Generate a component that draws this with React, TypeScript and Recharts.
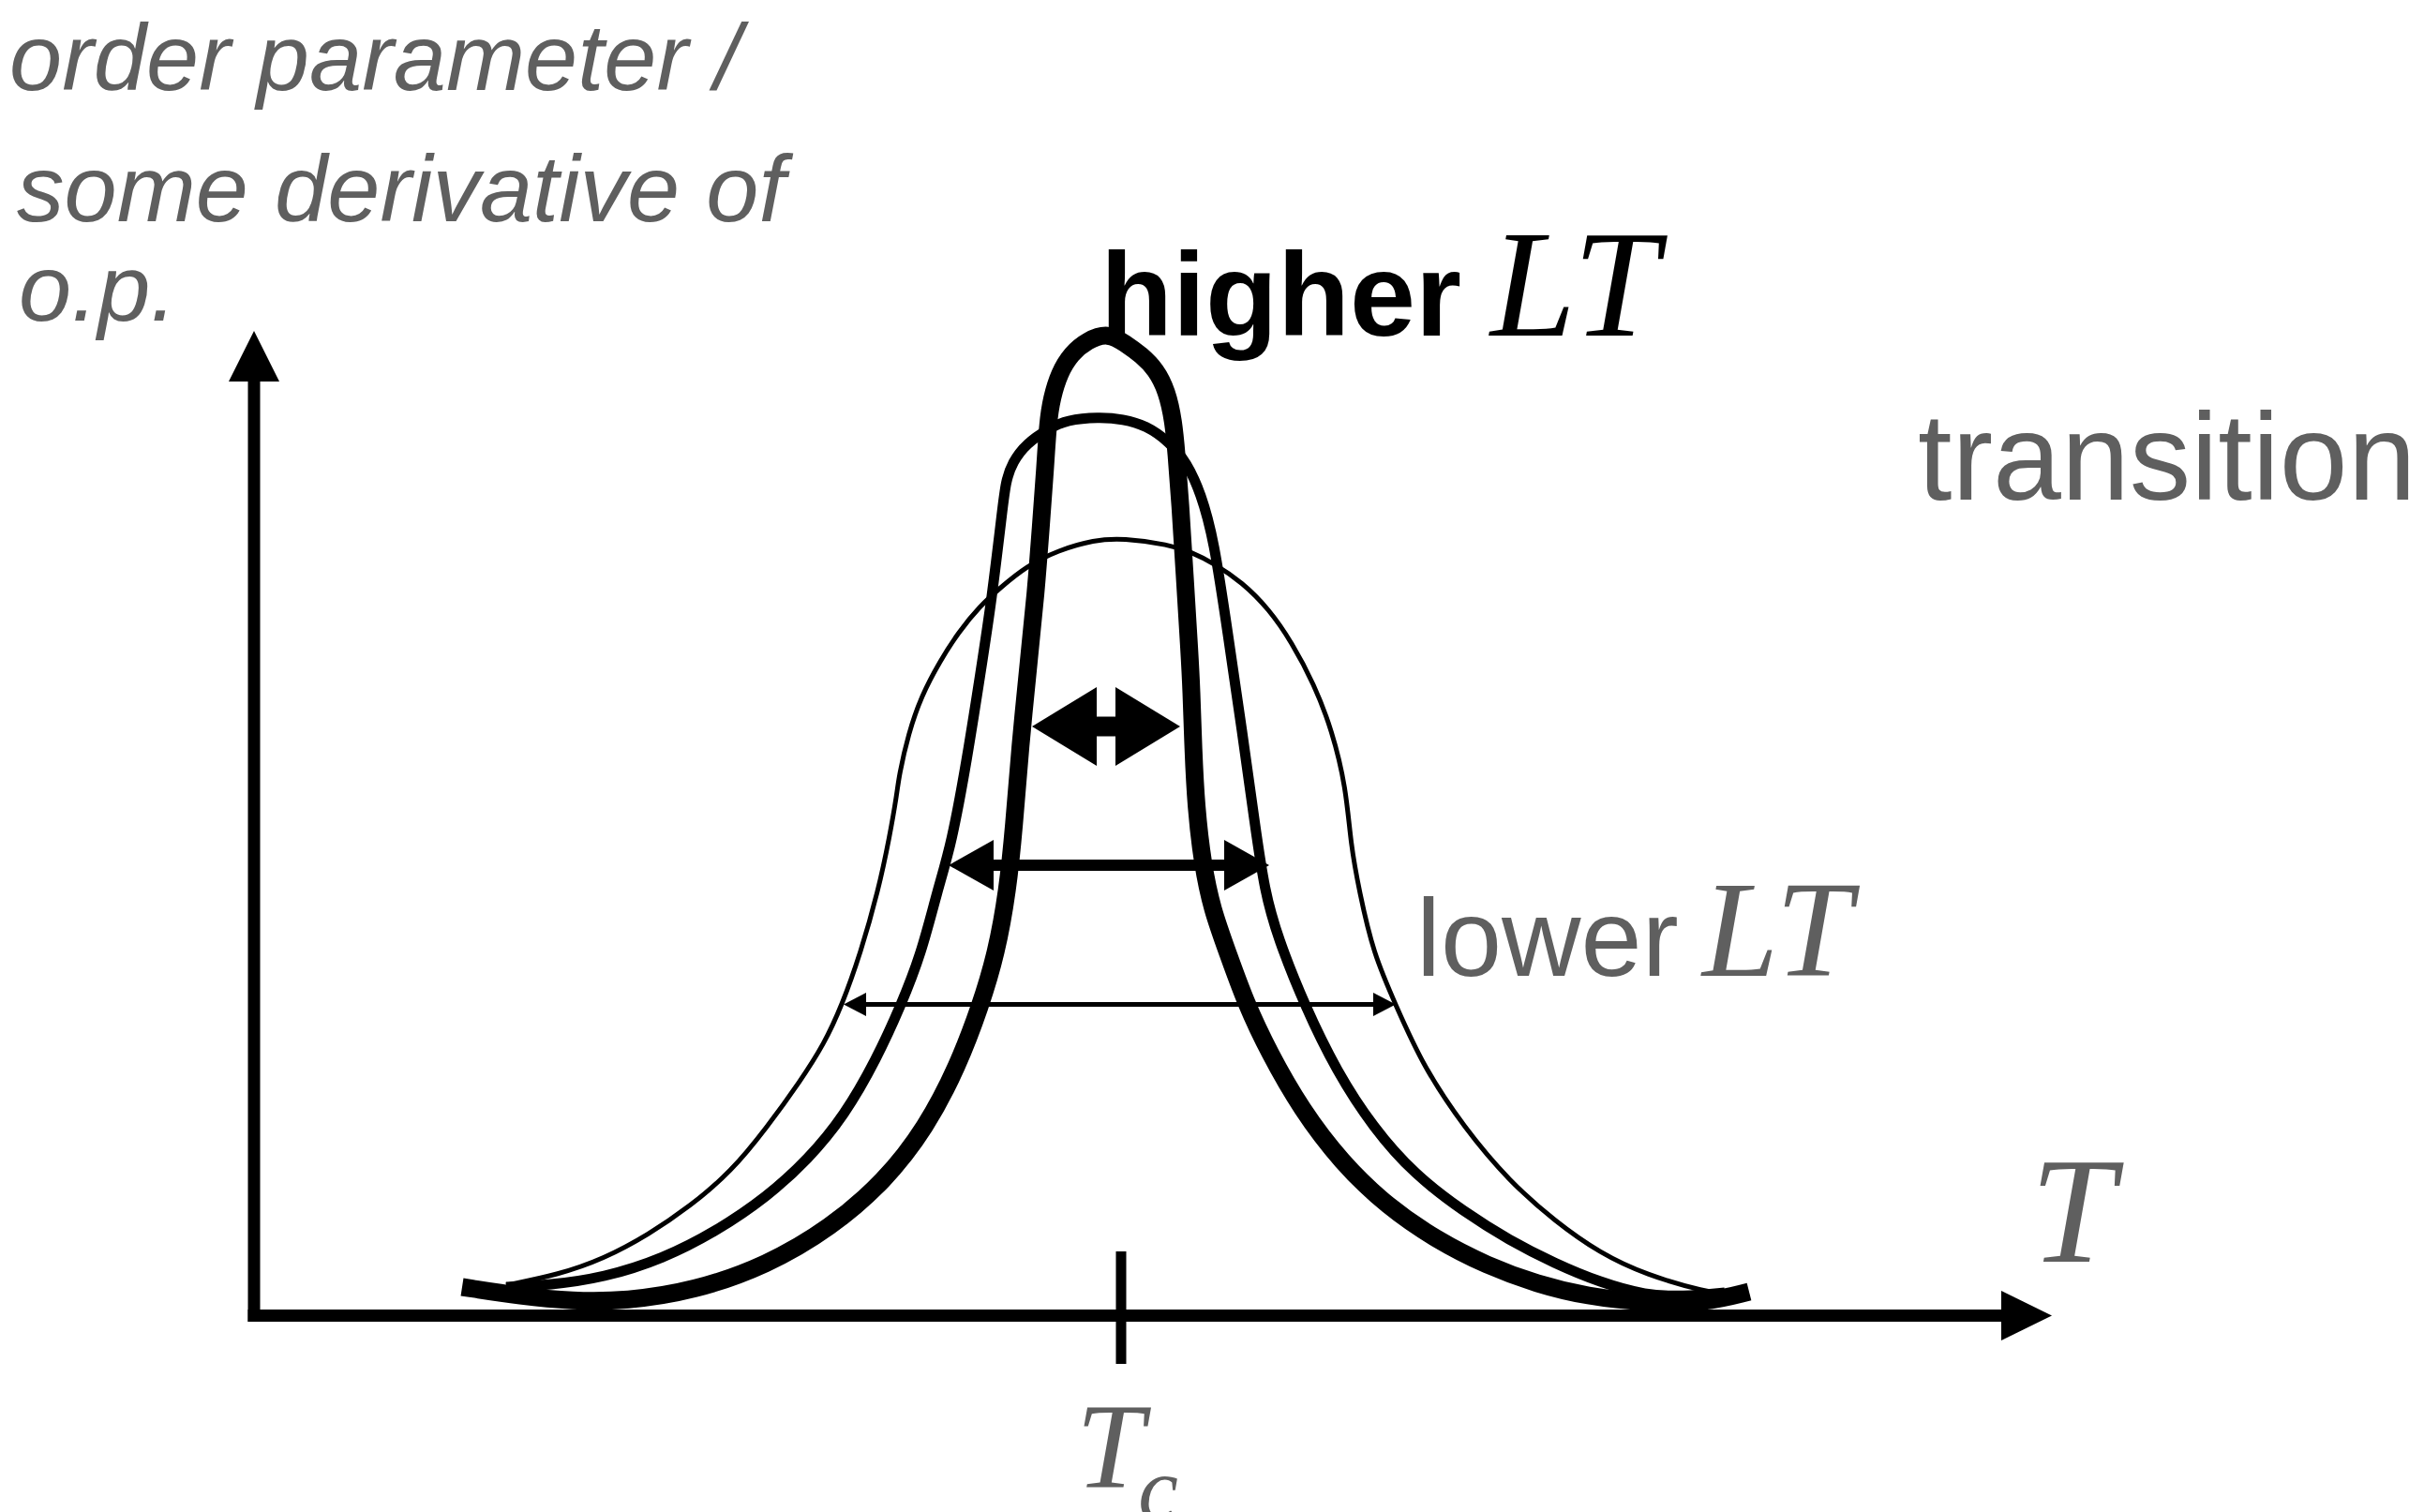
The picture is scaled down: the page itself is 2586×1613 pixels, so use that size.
import React from 'react';
import { LineChart, Line, XAxis, YAxis, ReferenceLine, ReferenceDot } from 'recharts';

const thinCurve = [
  { x: -65.6, y: 3.25 }, { x: -60.1, y: 4.35 }, { x: -55.2, y: 6.05 }, { x: -50.4, y: 8.65 },
  { x: -46.0, y: 11.65 }, { x: -41.6, y: 15.35 }, { x: -37.8, y: 20.05 }, { x: -34.2, y: 25.05 },
  { x: -31.7, y: 28.95 }, { x: -29.8, y: 33.05 }, { x: -27.8, y: 38.65 }, { x: -25.9, y: 45.35 },
  { x: -24.7, y: 51.05 }, { x: -23.9, y: 55.75 }, { x: -23.7, y: 57.55 }, { x: -22.7, y: 62.05 },
  { x: -21.3, y: 66.15 }, { x: -19.3, y: 69.85 }, { x: -17.4, y: 72.85 }, { x: -15.0, y: 75.75 },
  { x: -13.0, y: 77.55 }, { x: -10.1, y: 79.95 }, { x: -6.7, y: 81.65 }, { x: -2.9, y: 82.75 },
  { x: 0.2, y: 82.95 }, { x: 5.1, y: 82.25 }, { x: 7.5, y: 81.45 }, { x: 9.9, y: 80.25 },
  { x: 12.9, y: 78.25 }, { x: 15.8, y: 75.35 }, { x: 18.2, y: 71.85 }, { x: 20.6, y: 67.35 },
  { x: 22.5, y: 62.45 }, { x: 24.0, y: 56.35 }, { x: 24.5, y: 50.25 }, { x: 25.4, y: 45.35 },
  { x: 26.9, y: 38.65 }, { x: 29.3, y: 33.15 }, { x: 32.2, y: 26.65 }, { x: 36.6, y: 20.05 },
  { x: 41.4, y: 14.35 }, { x: 46.3, y: 10.05 }, { x: 51.1, y: 6.65 }, { x: 56.0, y: 4.35 },
  { x: 62.3, y: 2.55 }, { x: 65.4, y: 2.15 },
];

const mediumCurve = [
  { x: -65.6, y: 3.05 }, { x: -61.0, y: 3.25 }, { x: -55.2, y: 4.05 }, { x: -48.9, y: 6.05 },
  { x: -43.1, y: 9.05 }, { x: -37.8, y: 12.65 }, { x: -33.4, y: 16.65 }, { x: -29.5, y: 21.35 },
  { x: -26.1, y: 27.35 }, { x: -23.5, y: 33.05 }, { x: -21.3, y: 38.65 }, { x: -19.6, y: 45.35 },
  { x: -18.1, y: 50.25 }, { x: -16.4, y: 59.55 }, { x: -15.0, y: 68.55 }, { x: -13.8, y: 76.35 },
  { x: -12.6, y: 86.55 }, { x: -12.3, y: 88.95 }, { x: -11.6, y: 91.05 }, { x: -10.1, y: 93.05 },
  { x: -7.7, y: 94.65 }, { x: -5.8, y: 95.55 }, { x: -2.4, y: 95.85 }, { x: 0.2, y: 95.65 },
  { x: 2.7, y: 94.95 }, { x: 5.1, y: 93.25 }, { x: 7.0, y: 91.05 }, { x: 8.5, y: 87.75 },
  { x: 9.9, y: 82.85 }, { x: 11.4, y: 72.65 }, { x: 12.9, y: 62.45 }, { x: 14.3, y: 52.25 },
  { x: 15.3, y: 45.35 }, { x: 16.7, y: 40.35 }, { x: 19.6, y: 33.05 }, { x: 23.0, y: 26.05 },
  { x: 26.9, y: 20.05 }, { x: 31.3, y: 15.05 }, { x: 36.6, y: 11.05 }, { x: 41.4, y: 8.05 },
  { x: 46.3, y: 5.55 }, { x: 51.1, y: 3.55 }, { x: 56.0, y: 2.15 }, { x: 59.9, y: 2.05 },
  { x: 64.4, y: 2.45 },
];

const thickCurve = [
  { x: -70.3, y: 3.05 }, { x: -63.9, y: 2.05 }, { x: -58.6, y: 1.55 }, { x: -52.8, y: 1.55 },
  { x: -45.5, y: 2.65 }, { x: -37.8, y: 5.35 }, { x: -31.0, y: 9.35 }, { x: -25.2, y: 14.35 },
  { x: -20.8, y: 20.05 }, { x: -17.4, y: 26.65 }, { x: -15.0, y: 33.05 }, { x: -13.3, y: 38.65 },
  { x: -12.1, y: 45.35 }, { x: -11.4, y: 52.35 }, { x: -10.8, y: 60.35 }, { x: -9.8, y: 70.35 },
  { x: -9.1, y: 77.05 }, { x: -8.6, y: 83.65 }, { x: -8.1, y: 90.35 }, { x: -7.8, y: 95.35 },
  { x: -7.4, y: 97.85 }, { x: -6.6, y: 100.55 }, { x: -5.3, y: 102.65 }, { x: -3.6, y: 104.05 },
  { x: -1.4, y: 104.85 }, { x: 0.4, y: 103.75 }, { x: 2.2, y: 102.45 }, { x: 3.7, y: 100.95 },
  { x: 4.9, y: 98.65 }, { x: 5.6, y: 95.35 }, { x: 5.9, y: 92.05 }, { x: 6.3, y: 86.95 },
  { x: 6.8, y: 78.75 }, { x: 7.3, y: 70.65 }, { x: 7.5, y: 66.95 }, { x: 7.7, y: 60.45 },
  { x: 8.0, y: 54.25 }, { x: 8.7, y: 48.15 }, { x: 9.7, y: 43.35 }, { x: 11.4, y: 38.65 },
  { x: 13.3, y: 33.35 }, { x: 15.8, y: 28.05 }, { x: 19.2, y: 22.05 }, { x: 23.5, y: 16.35 },
  { x: 28.4, y: 11.65 }, { x: 33.7, y: 8.05 }, { x: 39.0, y: 5.35 }, { x: 44.4, y: 3.35 },
  { x: 49.7, y: 2.05 }, { x: 56.0, y: 1.35 }, { x: 62.3, y: 1.35 }, { x: 67.0, y: 2.55 },
];

// full width markers: y level, left end, right end
const widthArrows = [
  { key: 'high', y: 62.85, from: -9.5, to: 6.3 },
  { key: 'mid', y: 48.05, from: -18.4, to: 15.8 },
  { key: 'low', y: 33.2, from: -29.6, to: 29.3 },
];

const signalAxis = { x: -92.5, from: -0.65, to: 105.05 };
const tAxis = { y: 0, from: -93.15, to: 99.3 };
const tcTick = { x: 0, from: -5.15, to: 6.85 };

const SANS = "'Liberation Sans', Arial, Helvetica, sans-serif";
const SERIF = "'Liberation Serif', 'Times New Roman', serif";
const GREY = '#5f5f5f';

const arrowLook: Record<string, { head: number; half: number; w: number }> = {
  high: { head: 69, half: 42, w: 21 },
  mid: { head: 48, half: 27, w: 12 },
  low: { head: 24, half: 12.5, w: 5 },
};

function Arrow({ x1, y1, x2, y2, head, half, w, both }: any) {
  const dx = x2 - x1;
  const dy = y2 - y1;
  const len = Math.hypot(dx, dy) || 1;
  const ux = dx / len;
  const uy = dy / len;
  const nx = -uy;
  const ny = ux;
  const tri = (tx: number, ty: number, ddx: number, ddy: number) => {
    const bx = tx - ddx * head;
    const by = ty - ddy * head;
    return `${tx},${ty} ${bx + nx * half},${by + ny * half} ${bx - nx * half},${by - ny * half}`;
  };
  const sx = both ? x1 + ux * (head - 1) : x1;
  const sy = both ? y1 + uy * (head - 1) : y1;
  const ex = x2 - ux * (head - 1);
  const ey = y2 - uy * (head - 1);
  return (
    <g>
      <line x1={sx} y1={sy} x2={ex} y2={ey} stroke="#000" strokeWidth={w} />
      <polygon points={tri(x2, y2, ux, uy)} fill="#000" />
      {both && <polygon points={tri(x1, y1, -ux, -uy)} fill="#000" />}
    </g>
  );
}

const textShape = (render: (x: number, y: number) => React.ReactElement) => (p: any) => render(p.cx, p.cy);

export default function App() {
  return (
    <div>
      <style>{'body{margin:0;background:#fff}'}</style>
      <LineChart width={2586} height={1613} margin={{ top: 0, right: 0, bottom: 0, left: 0 }}>
        <XAxis type="number" dataKey="x" domain={[-119.6, 139.0]} allowDataOverflow hide />
        <YAxis type="number" dataKey="y" domain={[-20.95, 140.35]} allowDataOverflow hide />

        <Line data={thinCurve} dataKey="y" type="basis" stroke="#000" strokeWidth={5}
          dot={false} activeDot={false} isAnimationActive={false} />
        <Line data={mediumCurve} dataKey="y" type="basis" stroke="#000" strokeWidth={11}
          dot={false} activeDot={false} isAnimationActive={false} />
        <Line data={thickCurve} dataKey="y" type="basis" stroke="#000" strokeWidth={19}
          dot={false} activeDot={false} isAnimationActive={false} />

        <ReferenceLine
          segment={[{ x: signalAxis.x, y: signalAxis.from }, { x: signalAxis.x, y: signalAxis.to }]}
          ifOverflow="visible"
          shape={(p: any) => <Arrow {...p} head={54} half={27} w={13} />}
        />
        <ReferenceLine
          segment={[{ x: tAxis.from, y: tAxis.y }, { x: tAxis.to, y: tAxis.y }]}
          ifOverflow="visible"
          shape={(p: any) => <Arrow {...p} head={54} half={26.5} w={13} />}
        />
        <ReferenceLine
          segment={[{ x: tcTick.x, y: tcTick.from }, { x: tcTick.x, y: tcTick.to }]}
          ifOverflow="visible"
          stroke="#000"
          strokeWidth={11}
        />

        {widthArrows.map(a => (
          <ReferenceLine
            key={a.key}
            segment={[{ x: a.from, y: a.y }, { x: a.to, y: a.y }]}
            ifOverflow="visible"
            shape={(p: any) => <Arrow {...p} {...arrowLook[a.key]} both />}
          />
        ))}

        <ReferenceDot x={-118.6} y={130.75} r={0} ifOverflow="visible"
          shape={textShape((x, y) => (
            <text x={x} y={y} fontFamily={SANS} fontStyle="italic" fontSize={101} fill={GREY}>order parameter /</text>
          ))} />
        <ReferenceDot x={-117.8} y={116.75} r={0} ifOverflow="visible"
          shape={textShape((x, y) => (
            <text x={x} y={y} fontFamily={SANS} fontStyle="italic" fontSize={101} fill={GREY}>some derivative of</text>
          ))} />
        <ReferenceDot x={-117.6} y={106.15} r={0} ifOverflow="visible"
          shape={textShape((x, y) => (
            <text x={x} y={y} fontFamily={SANS} fontStyle="italic" fontSize={101} fill={GREY}>o.p.</text>
          ))} />

        <ReferenceDot x={-2.2} y={104.55} r={0} ifOverflow="visible"
          shape={textShape((x, y) => (
            <text x={x} y={y} fontFamily={SANS} fontWeight="bold" fontSize={126} fill="#000">higher</text>
          ))} />
        <ReferenceDot x={39.4} y={104.55} r={0} ifOverflow="visible"
          shape={textShape((x, y) => (
            <text x={x} y={y} fontFamily={SERIF} fontStyle="italic" fontSize={164} fill="#000">LT</text>
          ))} />

        <ReferenceDot x={31.5} y={36.25} r={0} ifOverflow="visible"
          shape={textShape((x, y) => (
            <text x={x} y={y} fontFamily={SANS} fontSize={117} fill={GREY}>lower</text>
          ))} />
        <ReferenceDot x={62.0} y={36.25} r={0} ifOverflow="visible"
          shape={textShape((x, y) => (
            <text x={x} y={y} fontFamily={SERIF} fontStyle="italic" fontSize={146} fill={GREY}>LT</text>
          ))} />

        <ReferenceDot x={85.0} y={87.05} r={0} ifOverflow="visible"
          shape={textShape((x, y) => (
            <text x={x} y={y} fontFamily={SANS} fontSize={131} fill={GREY}>transition</text>
          ))} />

        <ReferenceDot x={97.0} y={5.75} r={0} ifOverflow="visible"
          shape={textShape((x, y) => (
            <text x={x} y={y} fontFamily={SERIF} fontStyle="italic" fontSize={162} fill={GREY}>T</text>
          ))} />

        <ReferenceDot x={-4.8} y={-18.25} r={0} ifOverflow="visible"
          shape={textShape((x, y) => (
            <text x={x} y={y} fontFamily={SERIF} fontStyle="italic" fontSize={130} fill={GREY}>
              T<tspan dx={-6} dy={34} fontSize={96}>c</tspan>
            </text>
          ))} />
      </LineChart>
    </div>
  );
}
